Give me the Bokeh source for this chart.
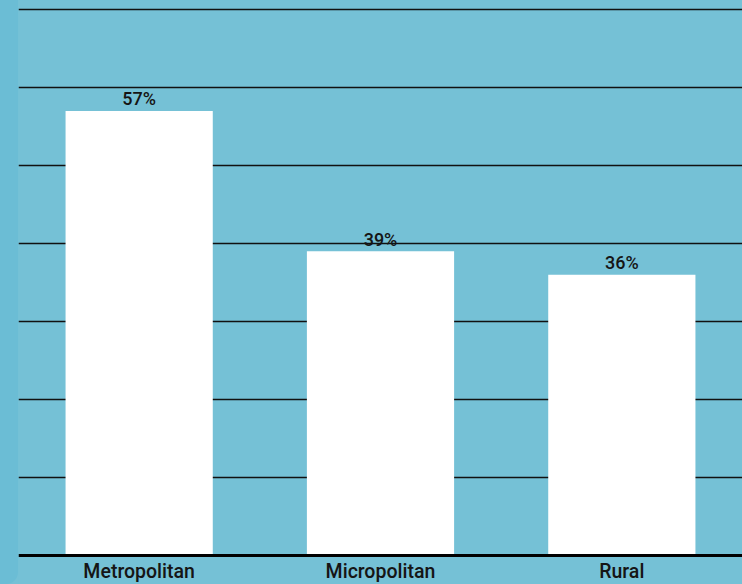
from bokeh.plotting import figure
from bokeh.models import ColumnDataSource, Range1d, FixedTicker, Spacer, Span
from bokeh.layouts import row
from bokeh.core.properties import value
from bokeh.embed import file_html
from bokeh.resources import INLINE

categories = ["Metropolitan", "Micropolitan", "Rural"]
shares = [57, 39, 36]
share_labels = ["57%", "39%", "36%"]
grid_ticks = [10, 20, 30, 40, 50, 60, 70]

BG = "#75c1d6"
STRIP = "#6bbdd5"
FONT = "'Roboto Medium', Roboto"

src = ColumnDataSource(dict(cat=categories, val=shares, lab=share_labels,
                            base=[0] * len(categories)))

p = figure(x_range=categories, y_range=Range1d(-3.718, 71.15), width=724, height=584,
           output_backend="svg", toolbar_location=None,
           min_border_left=0, min_border_right=0, min_border_top=0, min_border_bottom=0,
           background_fill_color=BG, border_fill_color=BG, outline_line_color=None)
p.x_range.range_padding = 0

p.vbar(x="cat", top="val", bottom="base", width=0.61, source=src,
       fill_color="white", line_color=None)
p.text(x="cat", y="val", text="lab", source=src, y_offset=-12,
       text_align="center", text_baseline="alphabetic", text_font=value(FONT),
       text_font_size="18px", text_font_style="normal", text_color="#151515")
p.text(x="cat", y="base", text="cat", source=src, y_offset=16,
       text_align="center", text_baseline="alphabetic", text_font=value(FONT),
       text_font_size="19.5px", text_font_style="normal", text_color="#151515")

p.add_layout(Span(location=0, dimension="width", line_color="#000000", line_width=3))

p.xaxis.visible = False
p.yaxis.visible = False
p.xgrid.grid_line_color = None
p.ygrid.ticker = FixedTicker(ticks=grid_ticks)
p.ygrid.grid_line_color = "#111111"
p.ygrid.grid_line_width = 1.5

strip = Spacer(width=18, height=584,
               styles={"background-color": STRIP, "border-bottom-right-radius": "12px"})
layout = row(strip, p, spacing=0, styles={"background-color": BG})

open("out.html", "w").write(file_html(layout, INLINE))
